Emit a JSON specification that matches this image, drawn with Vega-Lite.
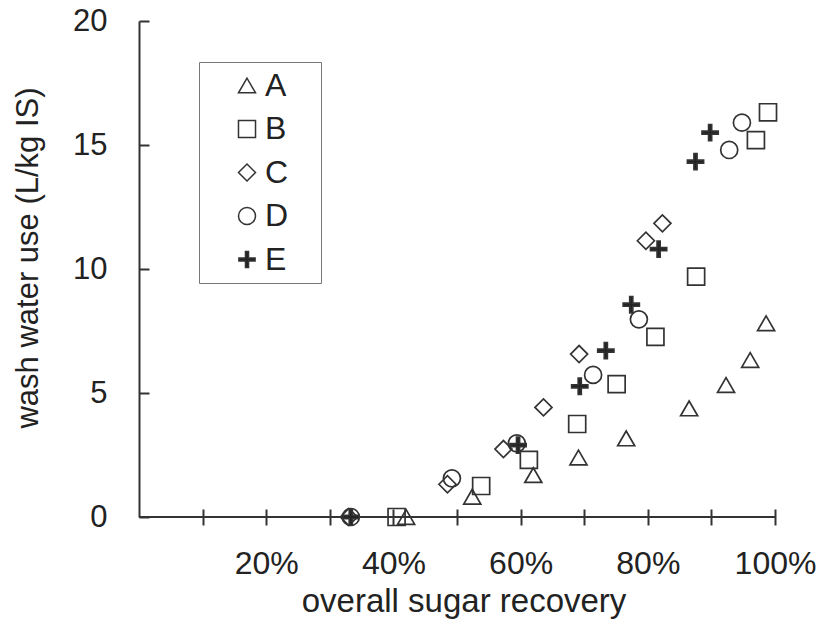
{
  "$schema": "https://vega.github.io/schema/vega-lite/v6.json",
  "width": 636,
  "height": 496,
  "autosize": {"type": "none"},
  "padding": {"left": 139, "top": 21, "right": 46, "bottom": 102},
  "background": "white",
  "config": {
    "view": {"stroke": null},
    "font": "Liberation Sans"
  },
  "data": {
    "values": [
      {"series": "A", "recovery": 0.42, "water": 0},
      {"series": "A", "recovery": 0.524, "water": 0.82},
      {"series": "A", "recovery": 0.62, "water": 1.69},
      {"series": "A", "recovery": 0.691, "water": 2.4},
      {"series": "A", "recovery": 0.766, "water": 3.17},
      {"series": "A", "recovery": 0.865, "water": 4.38},
      {"series": "A", "recovery": 0.923, "water": 5.32},
      {"series": "A", "recovery": 0.961, "water": 6.33},
      {"series": "A", "recovery": 0.986, "water": 7.81},
      {"series": "B", "recovery": 0.405, "water": 0},
      {"series": "B", "recovery": 0.538, "water": 1.25},
      {"series": "B", "recovery": 0.613, "water": 2.3},
      {"series": "B", "recovery": 0.689, "water": 3.75},
      {"series": "B", "recovery": 0.751, "water": 5.36},
      {"series": "B", "recovery": 0.812, "water": 7.26},
      {"series": "B", "recovery": 0.876, "water": 9.69},
      {"series": "B", "recovery": 0.97, "water": 15.2},
      {"series": "B", "recovery": 0.989, "water": 16.32},
      {"series": "C", "recovery": 0.33, "water": 0},
      {"series": "C", "recovery": 0.485, "water": 1.32},
      {"series": "C", "recovery": 0.573, "water": 2.74},
      {"series": "C", "recovery": 0.636, "water": 4.42},
      {"series": "C", "recovery": 0.692, "water": 6.57},
      {"series": "C", "recovery": 0.797, "water": 11.14},
      {"series": "C", "recovery": 0.823, "water": 11.84},
      {"series": "D", "recovery": 0.333, "water": 0},
      {"series": "D", "recovery": 0.492, "water": 1.56},
      {"series": "D", "recovery": 0.594, "water": 2.97},
      {"series": "D", "recovery": 0.714, "water": 5.73},
      {"series": "D", "recovery": 0.786, "water": 7.97},
      {"series": "D", "recovery": 0.928, "water": 14.8},
      {"series": "D", "recovery": 0.948, "water": 15.9},
      {"series": "E", "recovery": 0.333, "water": 0},
      {"series": "E", "recovery": 0.596, "water": 2.9},
      {"series": "E", "recovery": 0.693, "water": 5.27},
      {"series": "E", "recovery": 0.734, "water": 6.71},
      {"series": "E", "recovery": 0.774, "water": 8.56},
      {"series": "E", "recovery": 0.817, "water": 10.8},
      {"series": "E", "recovery": 0.875, "water": 14.33},
      {"series": "E", "recovery": 0.898, "water": 15.5}
    ]
  },
  "layer": [
    {
      "data": {"values": [{}]},
      "mark": {"type": "rule", "stroke": "#333", "strokeWidth": 2},
      "encoding": {
        "y": {"datum": 0, "type": "quantitative", "scale": {"domain": [0, 20], "nice": false}}
      }
    },
    {
      "mark": {"type": "point", "stroke": "#333", "strokeWidth": 1.7, "opacity": 1, "size": 290, "clip": false},
      "encoding": {
        "x": {
          "field": "recovery",
          "type": "quantitative",
          "scale": {"domain": [0, 1], "nice": false},
          "axis": {
            "values": [0.1, 0.2, 0.3, 0.4, 0.5, 0.6, 0.7, 0.8, 0.9, 1.0],
            "offset": -8,
            "domain": false,
            "grid": false,
            "tickSize": 16,
            "tickColor": "#333",
            "tickWidth": 2,
            "labelExpr": "round(datum.value * 100) % 20 === 0 ? format(datum.value, '.0%') : ''",
            "labelFontSize": 32,
            "labelColor": "#222",
            "labelBaseline": "alphabetic",
            "labelPadding": 48,
            "labelFlush": false,
            "labelOverlap": false,
            "title": "overall sugar recovery",
            "titleFontSize": 33,
            "titleFontWeight": "normal",
            "titleColor": "#222",
            "titleX": 324.5,
            "titleY": 102,
            "titleAlign": "center",
            "titleBaseline": "alphabetic"
          }
        },
        "y": {
          "field": "water",
          "type": "quantitative",
          "scale": {"domain": [0, 20], "nice": false},
          "axis": {
            "values": [0, 5, 10, 15, 20],
            "grid": false,
            "domainColor": "#333",
            "domainWidth": 2,
            "tickSize": -10,
            "tickColor": "#333",
            "tickWidth": 2,
            "labelFontSize": 31,
            "labelColor": "#222",
            "labelPadding": 42,
            "labelFlush": false,
            "labelOverlap": false,
            "title": "wash water use (L/kg IS)",
            "titleFontSize": 31,
            "titleFontWeight": "normal",
            "titleColor": "#222",
            "titleAngle": 270,
            "titleX": -102,
            "titleY": 236.5,
            "titleAlign": "center",
            "titleBaseline": "alphabetic"
          }
        },
        "shape": {
          "field": "series",
          "type": "nominal",
          "scale": {
            "domain": ["A", "B", "C", "D", "E"],
            "range": ["triangle-up", "square", "diamond", "circle", "M-0.18,-0.95H0.18V-0.18H0.95V0.18H0.18V0.95H-0.18V0.18H-0.95V-0.18H-0.18Z"]
          },
          "legend": {
            "orient": "none",
            "legendX": 60,
            "legendY": 41,
            "title": "\u00a0",
            "titleOrient": "right",
            "titlePadding": 25,
            "titleFontSize": 1,
            "padding": 7.5,
            "strokeColor": "#777",
            "fillColor": "white",
            "labelFontSize": 32,
            "labelColor": "#222",
            "symbolSize": 290,
            "symbolOffset": 24.5,
            "labelOffset": 2,
            "rowPadding": 11.5,
            "encode": {
              "symbols": {
                "update": {
                  "stroke": {"value": "#333"},
                  "strokeWidth": {"value": 1.7},
                  "opacity": {"value": 1}
                }
              }
            }
          }
        },
        "fill": {
          "field": "series",
          "type": "nominal",
          "scale": {
            "domain": ["A", "B", "C", "D", "E"],
            "range": ["transparent", "transparent", "transparent", "transparent", "#222"]
          },
          "legend": {
            "orient": "none",
            "legendX": 60,
            "legendY": 41,
            "title": "\u00a0",
            "titleOrient": "right",
            "titlePadding": 25,
            "titleFontSize": 1,
            "padding": 7.5,
            "strokeColor": "#777",
            "fillColor": "white",
            "labelFontSize": 32,
            "labelColor": "#222",
            "symbolSize": 290,
            "symbolOffset": 24.5,
            "labelOffset": 2,
            "rowPadding": 11.5,
            "encode": {
              "symbols": {
                "update": {
                  "stroke": {"value": "#333"},
                  "strokeWidth": {"value": 1.7},
                  "opacity": {"value": 1}
                }
              }
            }
          }
        }
      }
    }
  ]
}
